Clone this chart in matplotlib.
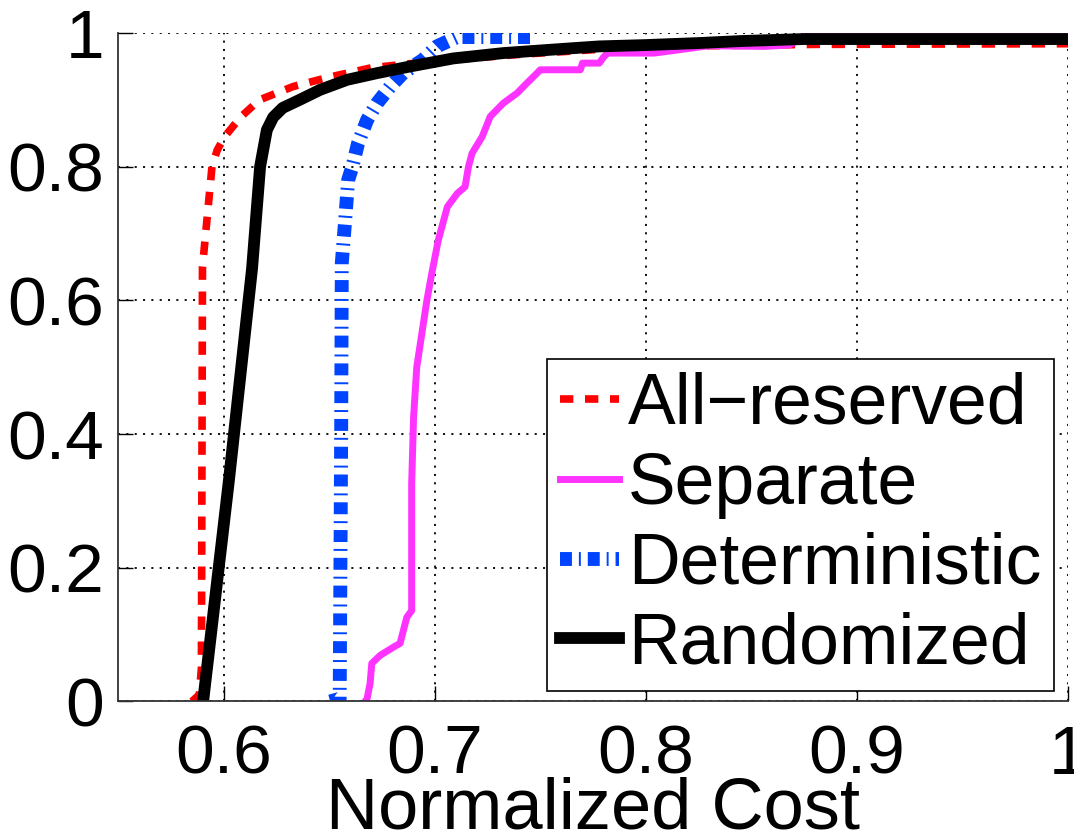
import matplotlib
matplotlib.use("Agg")
import matplotlib.pyplot as plt
from matplotlib.ticker import FormatStrFormatter

plt.rcParams['font.family'] = ['Liberation Sans', 'DejaVu Sans']
plt.rcParams['lines.scale_dashes'] = False

# CDF curves (normalized cost vs. cumulative fraction)
allres_x = [0.5850, 0.5885, 0.5895, 0.5900, 0.5915, 0.5930, 0.5945, 0.5970, 0.6005,
            0.6080, 0.6170, 0.6330, 0.6500, 0.6700, 0.7000, 0.7400, 0.7800, 0.8300,
            0.8800, 1.0]
allres_y = [0.0, 0.01, 0.05, 0.65, 0.70, 0.75, 0.80, 0.825, 0.845,
            0.874, 0.90, 0.92, 0.934, 0.948, 0.958, 0.968, 0.976, 0.981,
            0.983, 0.984]

sep_x = [0.6670, 0.6679, 0.6694, 0.6702, 0.6742, 0.6803, 0.6836, 0.6868, 0.6891,
         0.6891, 0.6900, 0.6915, 0.6939, 0.6963, 0.6986, 0.7017, 0.7060, 0.7107,
         0.7144, 0.7160, 0.7177, 0.7225, 0.7263, 0.7325, 0.7390, 0.7437, 0.7485,
         0.7500, 0.7690, 0.7700, 0.7780, 0.7800, 0.7820, 0.8040, 0.8300, 0.8560,
         0.8680, 0.8750, 1.0]
sep_y = [0.0, 0.003, 0.027, 0.057, 0.069, 0.081, 0.087, 0.126, 0.136,
         0.326, 0.425, 0.500, 0.550, 0.600, 0.640, 0.690, 0.740, 0.760,
         0.770, 0.800, 0.820, 0.845, 0.875, 0.895, 0.910, 0.925, 0.940,
         0.945, 0.945, 0.955, 0.955, 0.964, 0.970, 0.970, 0.981, 0.980,
         0.982, 0.995, 0.995]

det_x = [0.6505, 0.6550, 0.6557, 0.6560, 0.6576, 0.6590, 0.6610, 0.6637, 0.6680,
         0.6727, 0.6790, 0.6850, 0.6945, 0.7010, 0.7107, 0.7470]
det_y = [0.0, 0.004, 0.40, 0.656, 0.72, 0.78, 0.80, 0.835, 0.87,
         0.895, 0.92, 0.94, 0.96, 0.98, 0.994, 0.994]

rand_x = [0.5903, 0.6025, 0.6135, 0.6173, 0.6205, 0.6235, 0.6280, 0.6360, 0.6457,
          0.6585, 0.6727, 0.6884, 0.7088, 0.7325, 0.7640, 0.7780, 0.8000, 0.8250,
          0.8450, 0.8750, 1.0]
rand_y = [0.0, 0.33, 0.648, 0.80, 0.855, 0.874, 0.888, 0.900, 0.915,
          0.930, 0.940, 0.950, 0.962, 0.970, 0.977, 0.980, 0.982, 0.985,
          0.988, 0.991, 0.991]

x_ticks = [0.6, 0.7, 0.8, 0.9, 1.0]
y_ticks = [0, 0.2, 0.4, 0.6, 0.8, 1.0]

fig = plt.figure(figsize=(10.74, 8.34), dpi=100)
ax = fig.add_axes([0.1099, 0.1589, 0.8845, 0.8015])

ax.plot(allres_x, allres_y, color='#ff0000', lw=5.5, linestyle=(0, (9.6, 8.4)),
        label='All\u2212reserved')
ax.plot(sep_x, sep_y, color='#ff33ff', lw=5, label='Separate')
ax.plot(det_x, det_y, color='#0044ff', lw=10, linestyle=(0, (8.6, 5, 1.4, 5)),
        label='Deterministic')
ax.plot(rand_x, rand_y, color='black', lw=8.5, label='Randomized')

ax.set_xlim(0.55, 1.0)
ax.set_ylim(0, 1)
ax.set_xticks(x_ticks)
ax.set_yticks(y_ticks)
ax.xaxis.set_major_formatter(FormatStrFormatter('%g'))
ax.yaxis.set_major_formatter(FormatStrFormatter('%g'))
ax.tick_params(direction='in', length=11, width=1, labelsize=50, pad=10, colors='black')
ax.tick_params(axis='x', pad=16)
ax.grid(True, color='black', linestyle=(0, (1.5, 4.5)), linewidth=1.3)
ax.spines['top'].set_visible(False)
ax.spines['right'].set_visible(False)
for s in ('left', 'bottom'):
    ax.spines[s].set_linewidth(1.3)
    ax.spines[s].set_color('#333333')

ax.set_xlabel('Normalized Cost', fontsize=52, labelpad=-8)

leg = ax.legend(loc='upper left', bbox_to_anchor=(547 / 1074, 1 - 359 / 834),
                bbox_transform=fig.transFigure, fontsize=51.5, frameon=True,
                fancybox=False, framealpha=1, edgecolor='black', borderpad=0.18,
                labelspacing=0.18, handlelength=0.83, handletextpad=0.12,
                borderaxespad=0)
leg.get_frame().set_linewidth(1.2)

fig.savefig('out.png', dpi=100)
